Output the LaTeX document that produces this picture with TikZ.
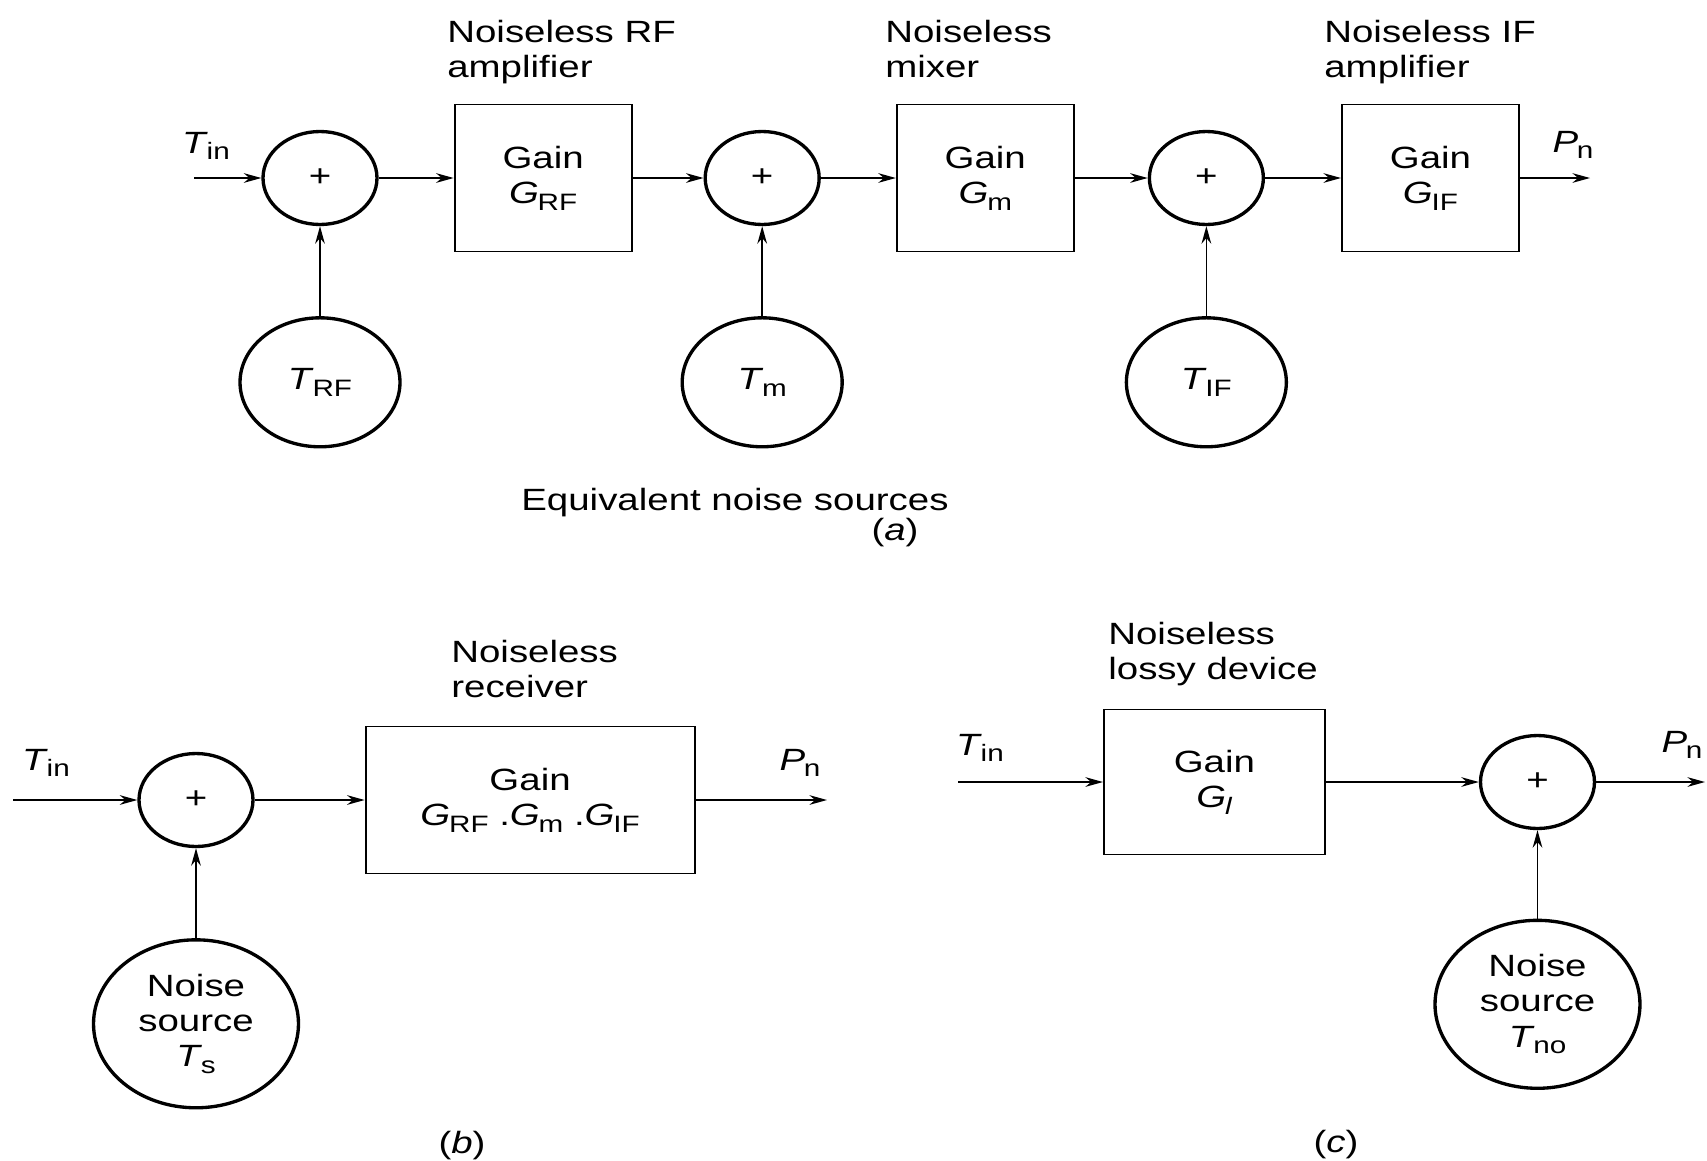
\documentclass[tikz,border=0pt]{standalone}
\usepackage{fontspec}
\setmainfont{Liberation Sans}[FakeStretch=1.25]
\usepackage{tikz}
\usetikzlibrary{positioning, shapes.geometric, arrows.meta}
\newcommand{\sym}[2]{\textit{#1}\kern-0.04em\raisebox{-0.22em}{\fontsize{13.5}{14}\selectfont #2}}
\tikzset{
	sumnode/.style={draw, ellipse, line width=1.9pt, minimum width=2.28cm, minimum height=1.86cm, inner sep=0pt},
	gainbox/.style={draw, rectangle, line width=1.1pt, minimum width=3.54cm, minimum height=2.94cm, align=center},
	srcnode/.style={draw, ellipse, line width=1.9pt, minimum width=3.2cm, minimum height=2.58cm, inner sep=0pt, align=center},
	bigsrc/.style={srcnode, minimum width=4.1cm, minimum height=3.36cm},
	caption/.style={align=left, inner sep=0pt, anchor=north west},
	varlabel/.style={inner sep=0pt, anchor=base},
	sig/.style={-{Stealth[length=10pt,width=5.5pt]}, line width=0.9pt}
}
\begin{document}
\begin{tikzpicture}[x=0.02cm, y=-0.02cm, font=\fontsize{17.5}{20}\selectfont]
	\useasboundingbox (0,0) rectangle (1707,1160);
	% (a)
	\coordinate (ain) at (194,178);
	\node[sumnode] (s1) at (320,178) {+};
	\node[gainbox, right=1.5cm of s1] (grf) {Gain\\\sym{G}{RF}};
	\node[sumnode, right=1.42cm of grf] (s2) {+};
	\node[gainbox, right=1.5cm of s2] (gm) {Gain\\\sym{G}{m}};
	\node[sumnode, right=1.46cm of gm] (s3) {+};
	\node[gainbox, right=1.52cm of s3] (gif) {Gain\\\sym{G}{IF}};
	\coordinate (aout) at (1590,178);
	\node[srcnode, below=1.8cm of s1] (trf) {\sym{T}{RF}};
	\node[srcnode, below=1.8cm of s2] (tm) {\sym{T}{m}};
	\node[srcnode, below=1.8cm of s3] (tif) {\sym{T}{IF}};
	\node[caption] (crf) at (447,20) {Noiseless RF\\amplifier};
	\node[caption] (cm) at (885,20) {Noiseless\\mixer};
	\node[caption] (cif) at (1324,20) {Noiseless IF\\amplifier};
	\node[varlabel] (atin) at (206,153) {\sym{T}{in}};
	\node[varlabel] (apn) at (1573,152) {\sym{P}{n}};
	\node (eqsrc) at (735,503) {Equivalent noise sources};
	\node (cap_a) at (895,533) {(\textit{a})};
	\draw[sig] (ain) -- (s1);
	\draw[sig] (s1) -- (grf);
	\draw[sig] (grf) -- (s2);
	\draw[sig] (s2) -- (gm);
	\draw[sig] (gm) -- (s3);
	\draw[sig] (s3) -- (gif);
	\draw[sig] (gif) -- (aout);
	\draw[sig] (trf) -- (s1);
	\draw[sig] (tm) -- (s2);
	\draw[sig] (tif) -- (s3);
	% (b)
	\coordinate (bin) at (13,800);
	\node[sumnode] (sb) at (196,800) {+};
	\node[gainbox, minimum width=6.58cm, right=2.2cm of sb] (grx) {Gain\\\sym{G}{RF} .\sym{G}{m} .\sym{G}{IF}};
	\coordinate (bout) at (827,800);
	\node[bigsrc, below=1.8cm of sb] (ts) {Noise\\source\\\sym{T}{s}};
	\node[caption] (crx) at (451,640) {Noiseless\\receiver};
	\node[varlabel] (btin) at (46,770) {\sym{T}{in}};
	\node[varlabel] (bpn) at (800,770) {\sym{P}{n}};
	\node (cap_b) at (462,1146) {(\textit{b})};
	\draw[sig] (bin) -- (sb);
	\draw[sig] (sb) -- (grx);
	\draw[sig] (grx) -- (bout);
	\draw[sig] (ts) -- (sb);
	% (c)
	\coordinate (cin) at (958,782);
	\node[gainbox, minimum width=4.42cm, minimum height=2.9cm, right=2.9cm of cin] (gl) {Gain\\\sym{G}{\textit{l}}};
	\node[sumnode, right=3.06cm of gl] (sc) {+};
	\coordinate (cout) at (1705,782);
	\node[bigsrc, below=1.77cm of sc] (tno) {Noise\\source\\\sym{T}{no}};
	\node[caption] (clossy) at (1108,622) {Noiseless\\lossy device};
	\node[varlabel] (ctin) at (980,755) {\sym{T}{in}};
	\node[varlabel] (cpn) at (1682,752) {\sym{P}{n}};
	\node (cap_c) at (1336,1145) {(\textit{c})};
	\draw[sig] (cin) -- (gl);
	\draw[sig] (gl) -- (sc);
	\draw[sig] (sc) -- (cout);
	\draw[sig] (tno) -- (sc);
\end{tikzpicture}
\end{document}
